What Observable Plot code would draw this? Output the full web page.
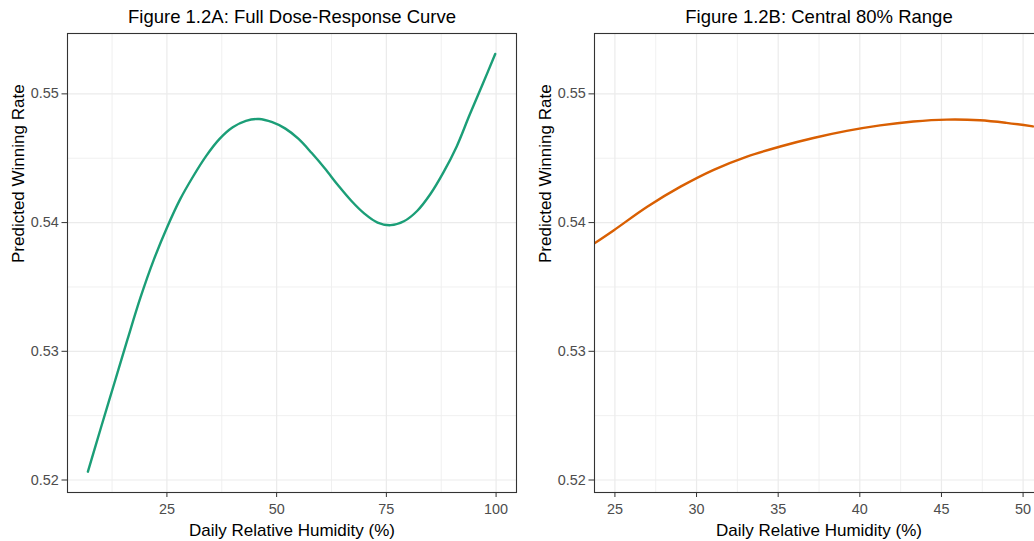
<!DOCTYPE html>
<html>
<head>
<meta charset="utf-8">
<script src="https://cdn.jsdelivr.net/npm/d3@7"></script>
<script src="https://cdn.jsdelivr.net/npm/@observablehq/plot@0.6"></script>
<style>
  html, body { margin: 0; padding: 0; background: #fff; overflow: hidden; }
  #wrap { position: relative; width: 1034px; height: 541px; overflow: hidden; background: #fff; }
  .panel { position: absolute; top: 0; width: 527px; height: 541px; }
  .panel svg { display: block; max-width: none !important; width: 527px; height: 541px; }
</style>
</head>
<body>
<div id="wrap">
  <div class="panel" id="pA" style="left:0px"></div>
  <div class="panel" id="pB" style="left:527px"></div>
</div>
<script>
// ---- Data ----
const titleA = "Figure 1.2A: Full Dose-Response Curve";
const titleB = "Figure 1.2B: Central 80% Range";
const xTitle = "Daily Relative Humidity (%)";
const yTitle = "Predicted Winning Rate";

// Panel A: full curve
const humidityA = [7.0, 10, 13, 16, 19, 22, 25, 28, 31, 34, 37, 40, 43, 46, 49, 52, 55, 58, 61, 64, 67, 70, 73, 76, 79, 82, 85, 88, 91, 94, 97, 99.8];
const rateA     = [0.52065, 0.5241, 0.5275, 0.5309, 0.5342, 0.5371, 0.5396, 0.5418, 0.5436, 0.5452, 0.5465, 0.5474, 0.5479, 0.54805, 0.5478, 0.5473, 0.5465, 0.5454, 0.5442, 0.5429, 0.5417, 0.5407, 0.5400, 0.5398, 0.5401, 0.5409, 0.5422, 0.5439, 0.5459, 0.5484, 0.5508, 0.5531];

// Panel B: central 80% range
const humidityB = [23.7, 24.94, 26.98, 29.02, 31.05, 33.09, 35.13, 37.16, 39.2, 41.24, 43.28, 45.32, 47.35, 48.98, 50.6];
const rateB     = [0.53835, 0.53941, 0.54123, 0.54279, 0.54410, 0.54513, 0.54591, 0.54657, 0.54712, 0.54755, 0.54785, 0.54800, 0.54795, 0.54775, 0.54747];

// Axis ticks
const xTicksA = [25, 50, 75, 100];
const xMinorA = [12.5, 37.5, 62.5, 87.5];
const xTicksB = [25, 30, 35, 40, 45, 50];
const xMinorB = [27.5, 32.5, 37.5, 42.5, 47.5];
const yTicks = [0.52, 0.53, 0.54, 0.55];
const yMinor = [0.525, 0.535, 0.545];

const xDomainA = [2.35, 104.65];
const xDomainB = [23.75, 51.25];
const yDomain = [0.51903, 0.55469];

const colorA = "#1B9E77";
const colorB = "#D95F02";

const dataA = humidityA.map((x, i) => ({x, y: rateA[i]}));
const dataB = humidityB.map((x, i) => ({x, y: rateB[i]}));

function panel(data, title, xDomain, xTicks, xMinor, color) {
  return Plot.plot({
    width: 527,
    height: 541,
    marginLeft: 67,
    marginRight: 11,
    marginTop: 33,
    marginBottom: 49,
    style: {fontFamily: "'Liberation Sans', Arial, sans-serif", background: "#fff"},
    x: {domain: xDomain},
    y: {domain: yDomain},
    marks: [
      Plot.gridX(xMinor, {stroke: "#EEEEEE", strokeOpacity: 1, strokeWidth: 0.9}),
      Plot.gridY(yMinor, {stroke: "#EEEEEE", strokeOpacity: 1, strokeWidth: 0.9}),
      Plot.gridX(xTicks, {stroke: "#EBEBEB", strokeOpacity: 1, strokeWidth: 1.2}),
      Plot.gridY(yTicks, {stroke: "#EBEBEB", strokeOpacity: 1, strokeWidth: 1.2}),
      Plot.line(data, {x: "x", y: "y", stroke: color, strokeWidth: 2.4, curve: "catmull-rom", clip: true}),
      Plot.frame({stroke: "#333333", strokeWidth: 1.1}),
      Plot.axisX(xTicks, {tickSize: 5, tickPadding: 6.3, label: null, fontSize: 14.4, fill: "#4D4D4D", stroke: "#333333"}),
      Plot.axisY(yTicks, {tickSize: 5.5, tickPadding: 3.2, label: null, fontSize: 14.4, fill: "#4D4D4D", stroke: "#333333", tickFormat: d => d.toFixed(2)}),
      Plot.text([title], {text: d => d, frameAnchor: "top", dy: -10.3, lineAnchor: "bottom", fontSize: 18.5, fill: "#000"}),
      Plot.text([xTitle], {text: d => d, frameAnchor: "bottom", dy: 43, lineAnchor: "bottom", fontSize: 17, fill: "#000"}),
      Plot.text([yTitle], {text: d => d, frameAnchor: "left", dx: -43.5, rotate: -90, lineAnchor: "bottom", fontSize: 17, fill: "#000"})
    ]
  });
}

document.getElementById("pA").appendChild(panel(dataA, titleA, xDomainA, xTicksA, xMinorA, colorA));
document.getElementById("pB").appendChild(panel(dataB, titleB, xDomainB, xTicksB, xMinorB, colorB));
</script>
</body>
</html>
